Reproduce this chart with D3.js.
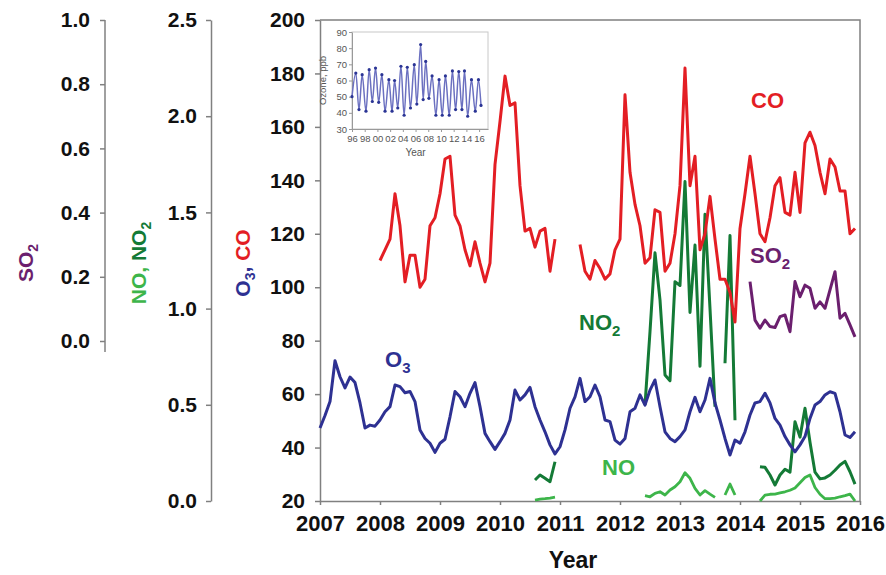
<!DOCTYPE html>
<html>
<head>
<meta charset="utf-8">
<script src="https://cdn.jsdelivr.net/npm/d3@7/dist/d3.min.js"></script>
<style>
    body { margin: 0; background: #fff; }
    svg { font-family: "Liberation Sans", Arial, sans-serif; }
</style>
</head>
<body>
<div id="chart"></div>
<script>
/**
 * Monthly trace gases, 2007-2016, with long-term ozone inset
 * Values are monthly means, index 0 = January of the start year
 */

// O3, ppb (from Jan 2007)
const o3Start = 2007;
const o3 = [
    47.3, 52, 57.2, 72.5, 66.5, 62.3, 66.4, 64.3, 56.7, 47.3, 48.4, 48,
    50.3, 53.4, 55.3, 63.4, 62.8, 60.5, 61, 57.2, 46.6, 43.4, 41.6, 38.2,
    41.6, 43.1, 51.5, 61, 59, 55.3, 60.3, 64.3, 55.3, 45.3, 42.2, 39.3,
    42.2, 45.3, 50.3, 61.5, 57.8, 59.7, 62.5, 55.3, 50.3, 45.9, 41, 37.6,
    40.3, 46.6, 54.7, 59, 65.9, 57.2, 59, 63.4, 59, 50.3, 49.7, 42.8,
    41.3, 43.4, 53.4, 54.7, 59.7, 55.9, 61.5, 65.3, 55.3, 45.9, 43.4, 42.2,
    44.1, 46.6, 53.4, 58.8, 53.4, 57.8, 65.9, 56.7, 50.3, 43.4, 37.2, 42.8,
    41.6, 45.9, 52.2, 56.7, 57.2, 60.3, 56.7, 50.9, 48.4, 44.1, 41, 38.4,
    41, 44.1, 50.9, 55.9, 57.2, 59.7, 60.9, 60.3, 53.4, 44.7, 43.8, 45.9
];

// CO, ppb (from Jan 2008)
const coStart = 2008;
const co = [
    110, 114, 118, 135, 123, 102, 112, 112, 100, 103, 123, 126,
    135, 148, 149, 127, 123, 114, 108, 117, 109, 102, 109, 146,
    162, 179, 168, 169, 138, 121, 122, 115, 121, 122, 106, 118,
    null, null, null, null, 116, 106, 103, 110, 107, 103, 105, 114,
    118, 172, 143, 131, 123, 109, 111, 129, 128, 106, 109, 120,
    138, 182, 138, 149, 114, 120, 134, 118, 103, 103, 98, 87,
    122, 135, 149, 135, 120, 117, 126, 138, 141, 128, 127, 143,
    128, 154, 158, 153, 143, 135, 148, 145, 136, 136, 120, 122
];

// NO2 and NO, ppb (from Jan 2010)
const noxStart = 2010;
const no2 = [
    null, null, null, null, null, null, null, 0.109, 0.135, 0.118, 0.10, 0.204,
    null, null, null, null, null, null, null, null, null, null, null, null,
    null, null, null, null, null, 0.50, 0.88, 1.29, 1.045, 0.655, 0.625, 1.14,
    1.12, 1.66, 0.98, 1.33, 0.70, 1.49, 1.0, 0.49, null, 0.716, 1.38, 0.42,
    null, null, null, null, 0.178, 0.175, 0.135, 0.083, 0.135, 0.165, 0.15, 0.412,
    0.332, 0.482, 0.305, 0.15, 0.115, 0.12, 0.135, 0.16, 0.187, 0.206, 0.152, 0.088
];
const no = [
    null, null, null, null, null, null, null, 0.005, 0.01, 0.012, 0.015, 0.02,
    null, null, null, null, null, null, null, null, null, null, null, null,
    null, null, null, null, null, 0.028, 0.022, 0.04, 0.048, 0.031, 0.057, 0.074,
    0.10, 0.147, 0.118, 0.066, 0.031, 0.054, 0.036, 0.019, null, 0.031, 0.088, 0.031,
    null, null, null, null, 0.0, 0.031, 0.035, 0.036, 0.042, 0.048, 0.056, 0.068,
    0.095, 0.122, 0.135, 0.07, 0.035, 0.012, 0.012, 0.015, 0.022, 0.028, 0.036, 0.0
];

// SO2, ppb (from Jan 2014)
const so2Start = 2014;
const so2 = [
    null, null, 0.185, 0.065, 0.04, 0.065, 0.045, 0.042, 0.076, 0.081, 0.029, 0.185,
    0.138, 0.174, 0.164, 0.102, 0.122, 0.102, 0.159, 0.216, 0.071, 0.086, 0.05, 0.013
];

// Inset: ozone 1996-2016, seasonal highs and lows
const insetYears = [
    1996.0, 1996.6, 1997.1, 1997.6, 1998.2, 1998.7, 1999.2, 1999.7, 2000.2, 2000.7,
    2001.2, 2001.8, 2002.3, 2002.7, 2003.2, 2003.7, 2004.2, 2004.7, 2005.2, 2005.8,
    2006.2, 2006.8, 2007.2, 2007.6, 2008.1, 2008.6, 2009.2, 2009.7, 2010.2, 2010.7,
    2011.3, 2011.8, 2012.3, 2012.8, 2013.3, 2013.7, 2014.2, 2014.8, 2015.4, 2015.9, 2016.3
];
const insetOzone = [
    50, 64.6, 42, 63.6, 41, 66.7, 47, 67.7, 46.5, 63.6,
    41, 60.5, 41, 60, 43, 68.8, 38.5, 68.2, 43, 69.8,
    45.4, 82.2, 48.2, 71.8, 49, 62.8, 38.5, 60.5, 38.5, 62.8,
    38.5, 65.9, 42, 65.5, 42, 65.9, 37.9, 60.5, 41, 60.5, 44.6
];

const yearTicks = d3.range(2007, 2017);
const mainTicks = d3.range(20, 201, 20);
const noTicks = [0, 0.5, 1.0, 1.5, 2.0, 2.5];
const so2Ticks = [0, 0.2, 0.4, 0.6, 0.8, 1.0];
const insetYearTicks = d3.range(1996, 2017, 2);
const insetOzoneTicks = d3.range(30, 91, 10);

const COLORS = {
    o3: '#2e3192',
    co: '#e31e24',
    no2: '#147a36',
    no: '#3db54a',
    so2: '#6b1f6e',
    axis: '#808080'
};

class TraceGasChart {
    constructor(container) {
        this.container = container;
        this.width = 886;
        this.height = 575;
    }

    init() {
        this.svg = d3.select(this.container)
            .append('svg')
            .attr('width', this.width)
            .attr('height', this.height);

        this.x = d3.scaleLinear().domain([2007, 2016]).range([320, 860]);
        this.yMain = d3.scaleLinear().domain([20, 200]).range([501, 20]);
        this.yNO = d3.scaleLinear().domain([0, 2.5]).range([501, 20]);
        this.ySO2 = d3.scaleLinear().domain([0, 1]).range([341, 20]);

        this.renderAxes();
        this.renderSeries();
        this.renderLabels();
        this.renderInset();
    }

    styleAxis(g, fontSize) {
        g.select('.domain').attr('stroke', COLORS.axis).attr('stroke-width', 1.5);
        g.selectAll('.tick line').attr('stroke', COLORS.axis).attr('stroke-width', 1.5);
        g.selectAll('.tick text')
            .attr('fill', '#111')
            .attr('font-size', fontSize)
            .attr('font-weight', 'bold')
            .attr('font-family', '"Liberation Sans", Arial, sans-serif');
    }

    renderAxes() {
        const svg = this.svg;
        const fmt1 = d3.format('.1f');

        // plot frame (top + right)
        svg.append('path')
            .attr('d', `M${this.x(2007)},${this.yMain(200)}H${this.x(2016)}V${this.yMain(20)}`)
            .attr('fill', 'none')
            .attr('stroke', COLORS.axis)
            .attr('stroke-width', 1.5);

        const xAxis = svg.append('g')
            .attr('transform', `translate(0,${this.yMain(20)})`)
            .call(d3.axisBottom(this.x).tickValues(yearTicks).tickFormat(d3.format('d'))
                .tickSize(4).tickSizeOuter(0).tickPadding(10));
        this.styleAxis(xAxis, 22);

        const mainAxis = svg.append('g')
            .attr('transform', `translate(${this.x(2007)},0)`)
            .call(d3.axisLeft(this.yMain).tickValues(mainTicks)
                .tickSize(5).tickSizeOuter(0).tickPadding(10));
        this.styleAxis(mainAxis, 21);

        const noAxis = svg.append('g')
            .attr('transform', 'translate(211,0)')
            .call(d3.axisLeft(this.yNO).tickValues(noTicks).tickFormat(fmt1)
                .tickSize(5).tickSizeOuter(0).tickPadding(9));
        this.styleAxis(noAxis, 21);

        const so2Axis = svg.append('g')
            .attr('transform', 'translate(105,0)')
            .call(d3.axisLeft(this.ySO2).tickValues(so2Ticks).tickFormat(fmt1)
                .tickSize(5).tickSizeOuter(0).tickPadding(10));
        this.styleAxis(so2Axis, 21);
        // SO2 axis line runs a little past zero
        so2Axis.select('.domain')
            .attr('d', `M0,${this.ySO2(1)}V${this.ySO2(0) + 11}`);

        // axis titles
        const title = (x, parts) => {
            const t = svg.append('text')
                .attr('transform', `translate(${x},263) rotate(-90)`)
                .attr('text-anchor', 'middle')
                .attr('font-size', 21)
                .attr('font-weight', 'bold');
            parts.forEach(p => {
                t.append('tspan')
                    .attr('fill', p.color)
                    .attr('font-size', p.sub ? 14 : 21)
                    .attr('dy', p.sub ? 5 : (p.after ? -5 : 0))
                    .text(p.text);
            });
        };
        title(33, [{ text: 'SO', color: COLORS.so2 }, { text: '2', color: COLORS.so2, sub: true }]);
        title(146, [
            { text: 'NO, ', color: COLORS.no },
            { text: 'NO', color: COLORS.no2 },
            { text: '2', color: COLORS.no2, sub: true }
        ]);
        title(250, [
            { text: 'O', color: COLORS.o3 },
            { text: '3', color: COLORS.o3, sub: true },
            { text: ', ', color: COLORS.o3, after: true },
            { text: 'CO', color: COLORS.co }
        ]);

        svg.append('text')
            .attr('x', 573)
            .attr('y', 568)
            .attr('text-anchor', 'middle')
            .attr('font-size', 23)
            .attr('font-weight', 'bold')
            .attr('fill', '#111')
            .text('Year');
    }

    drawSeries(values, start, yScale, color, width) {
        const data = values.map((v, i) => ({ t: start + i / 12, v }));
        const line = d3.line()
            .defined(d => d.v !== null)
            .x(d => this.x(d.t))
            .y(d => yScale(d.v));

        this.svg.append('path')
            .datum(data)
            .attr('d', line)
            .attr('fill', 'none')
            .attr('stroke', color)
            .attr('stroke-width', width)
            .attr('stroke-linejoin', 'round');
    }

    renderSeries() {
        this.drawSeries(no, noxStart, this.yNO, COLORS.no, 2.8);
        this.drawSeries(no2, noxStart, this.yNO, COLORS.no2, 3);
        this.drawSeries(so2, so2Start, this.ySO2, COLORS.so2, 3);
        this.drawSeries(o3, o3Start, this.yMain, COLORS.o3, 3);
        this.drawSeries(co, coStart, this.yMain, COLORS.co, 3);
    }

    renderLabels() {
        const label = (x, y, main, sub, color) => {
            const t = this.svg.append('text')
                .attr('x', x)
                .attr('y', y)
                .attr('font-size', 22)
                .attr('font-weight', 'bold')
                .attr('fill', color);
            t.append('tspan').text(main);
            if (sub) {
                t.append('tspan').attr('font-size', 15).attr('dy', 6).text(sub);
            }
        };
        label(751, 108, 'CO', null, COLORS.co);
        label(750, 263, 'SO', '2', COLORS.so2);
        label(579, 330, 'NO', '2', COLORS.no2);
        label(385, 367, 'O', '3', COLORS.o3);
        label(602, 475, 'NO', null, COLORS.no);
    }

    renderInset() {
        const ix = d3.scaleLinear().domain([1996, 2017.4]).range([352, 488]);
        const iy = d3.scaleLinear().domain([30, 90]).range([129, 32]);
        const g = this.svg.append('g');

        g.append('rect')
            .attr('x', ix.range()[0])
            .attr('y', iy.range()[1])
            .attr('width', ix.range()[1] - ix.range()[0])
            .attr('height', iy.range()[0] - iy.range()[1])
            .attr('fill', '#fff')
            .attr('stroke', '#c8c8c8')
            .attr('stroke-width', 1);

        const styleSmall = sel => {
            sel.select('.domain').attr('stroke', '#999');
            sel.selectAll('.tick line').attr('stroke', '#999');
            sel.selectAll('.tick text')
                .attr('fill', '#555')
                .attr('font-size', 9.5)
                .attr('font-family', '"Liberation Sans", Arial, sans-serif');
        };

        g.append('g')
            .attr('transform', `translate(0,${iy(30)})`)
            .call(d3.axisBottom(ix).tickValues(insetYearTicks)
                .tickFormat(d => String(d % 100).padStart(2, '0'))
                .tickSize(3).tickSizeOuter(0).tickPadding(3))
            .call(styleSmall);

        g.append('g')
            .attr('transform', `translate(${ix(1996)},0)`)
            .call(d3.axisLeft(iy).tickValues(insetOzoneTicks)
                .tickSize(3).tickSizeOuter(0).tickPadding(2))
            .call(styleSmall);

        const data = insetYears.map((t, i) => ({ t, v: insetOzone[i] }));
        const line = d3.line()
            .x(d => ix(d.t))
            .y(d => iy(d.v))
            .curve(d3.curveMonotoneX);

        g.append('path')
            .datum(data)
            .attr('d', line)
            .attr('fill', 'none')
            .attr('stroke', '#6b70c0')
            .attr('stroke-width', 1.5);

        g.selectAll('.pt')
            .data(data)
            .join('circle')
            .attr('class', 'pt')
            .attr('cx', d => ix(d.t))
            .attr('cy', d => iy(d.v))
            .attr('r', 1.6)
            .attr('fill', '#2b3595');

        g.append('text')
            .attr('x', ix(2006))
            .attr('y', 156)
            .attr('text-anchor', 'middle')
            .attr('font-size', 10)
            .attr('fill', '#555')
            .text('Year');

        g.append('text')
            .attr('transform', `translate(326,${iy(60)}) rotate(-90)`)
            .attr('text-anchor', 'middle')
            .attr('font-size', 9.5)
            .attr('fill', '#555')
            .text('Ozone, ppb');
    }
}

new TraceGasChart(document.getElementById('chart')).init();
</script>
</body>
</html>
